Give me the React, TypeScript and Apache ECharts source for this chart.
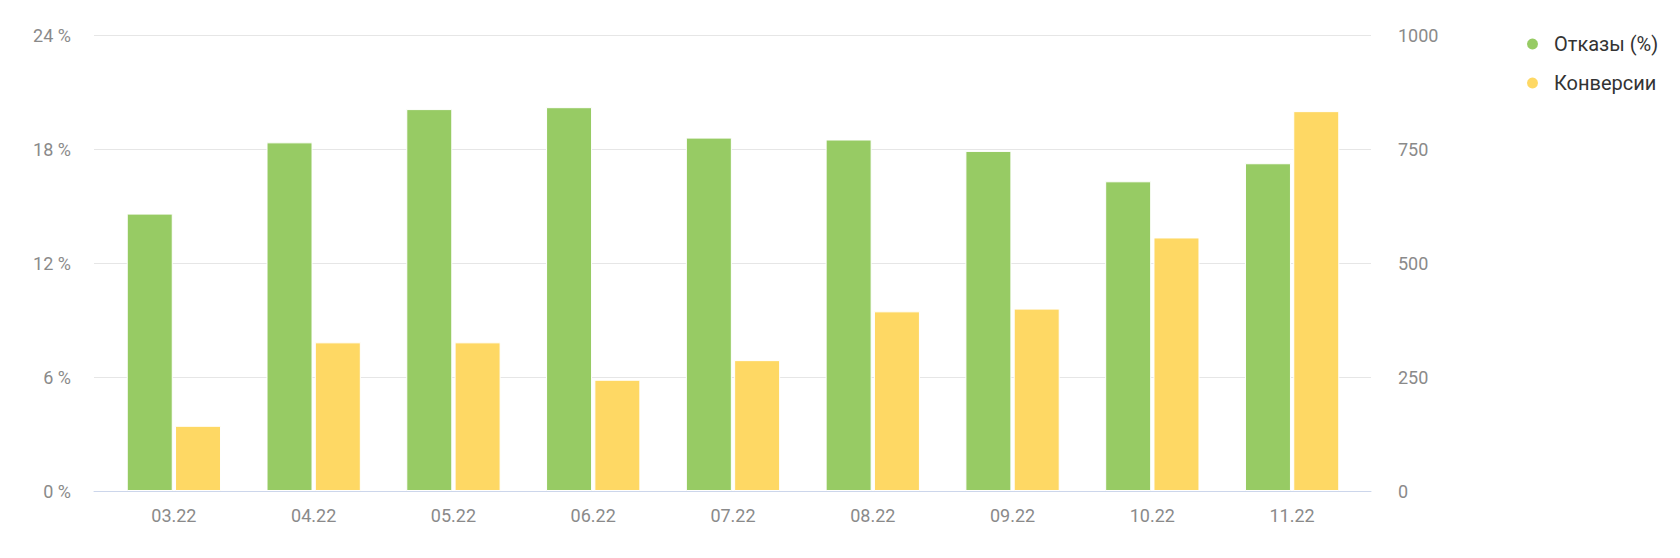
import React, { useEffect, useRef } from "react";
import * as echarts from "echarts";

const categories = ["03.22", "04.22", "05.22", "06.22", "07.22", "08.22", "09.22", "10.22", "11.22"];
const bounceRate = [14.6, 18.35, 20.1, 20.2, 18.6, 18.5, 17.9, 16.3, 17.25];
const conversions = [143, 326, 326, 244, 287, 394, 400, 556, 833];
const leftTicks = { min: 0, max: 24, interval: 6 };
const rightTicks = { min: 0, max: 1000, interval: 250 };
const seriesNames = ["Отказы (%)", "Конверсии"];

const FONT = "Roboto, 'Noto Sans', sans-serif";
const LABEL_COLOR = "#8a8a8a";

export default function App() {
  const ref = useRef<HTMLDivElement>(null);
  useEffect(() => {
    if (!ref.current) return;
    const chart = echarts.init(ref.current, undefined, { renderer: "svg" });
    const gridTop = 35;
    const gridBottom = 67;
    chart.setOption({
      animation: false,
      backgroundColor: "#ffffff",
      textStyle: { fontFamily: FONT },
      legend: {
        orient: "vertical",
        left: 1520,
        top: 29,
        icon: "circle",
        itemWidth: 13,
        itemHeight: 13,
        itemGap: 19,
        textStyle: { fontSize: 20, color: "#333333", fontFamily: FONT, padding: [0, 0, 0, 10] },
        data: seriesNames,
      },
      grid: [
        { left: 94, right: 309, top: gridTop, bottom: gridBottom },
        { left: 104, right: 318, top: gridTop, bottom: gridBottom },
      ],
      xAxis: [
        {
          type: "category",
          gridIndex: 0,
          data: categories,
          axisLine: { show: true, lineStyle: { color: "#ccd6eb", width: 1 } },
          axisTick: { show: false },
          axisLabel: { show: false },
        },
        {
          type: "category",
          gridIndex: 1,
          data: categories,
          axisLine: { show: false },
          axisTick: { show: false },
          axisLabel: { show: true, color: LABEL_COLOR, fontSize: 18, margin: 15, fontFamily: FONT },
        },
      ],
      yAxis: [
        {
          type: "value",
          gridIndex: 0,
          position: "left",
          ...leftTicks,
          axisLine: { show: false },
          axisTick: { show: false },
          axisLabel: { color: LABEL_COLOR, fontSize: 18, margin: 23, formatter: "{value} %", fontFamily: FONT },
          splitLine: { show: true, lineStyle: { color: "#e6e6e6", width: 1 } },
        },
        {
          type: "value",
          gridIndex: 0,
          position: "right",
          ...rightTicks,
          axisLine: { show: false },
          axisTick: { show: false },
          axisLabel: { color: LABEL_COLOR, fontSize: 18, margin: 27, fontFamily: FONT, formatter: (v: number) => String(v) },
          splitLine: { show: false },
        },
        { type: "value", gridIndex: 1, position: "left", ...leftTicks, show: false, splitLine: { show: false } },
        { type: "value", gridIndex: 1, position: "right", ...rightTicks, show: false, splitLine: { show: false } },
      ],
      series: [
        {
          name: seriesNames[0],
          type: "bar",
          xAxisIndex: 1,
          yAxisIndex: 2,
          data: bounceRate,
          barWidth: 46,
          barGap: "5%",
          itemStyle: { color: "#97cb64", borderColor: "#ffffff", borderWidth: 1 },
        },
        {
          name: seriesNames[1],
          type: "bar",
          xAxisIndex: 1,
          yAxisIndex: 3,
          data: conversions,
          barWidth: 46,
          barGap: "5%",
          itemStyle: { color: "#fed864", borderColor: "#ffffff", borderWidth: 1 },
        },
      ],
    });
    return () => chart.dispose();
  }, []);
  return <div ref={ref} style={{ width: 1680, height: 558, position: "absolute", left: 0, top: 0 }} />;
}
